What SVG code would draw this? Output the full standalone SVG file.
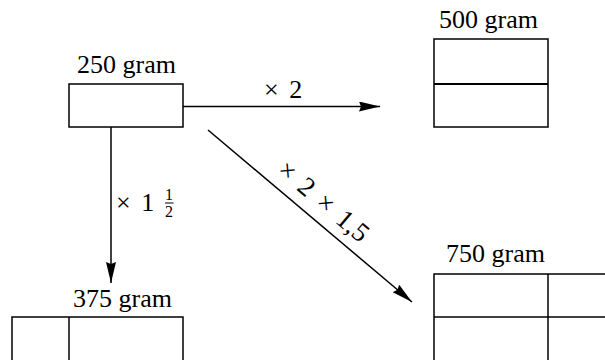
<svg xmlns="http://www.w3.org/2000/svg" width="605" height="360" viewBox="0 0 605 360">
<defs>
<style>
.box{fill:none;stroke:#000;stroke-width:1.5}
.div{stroke:#000;stroke-width:1.5;fill:none}
text{font-family:'Liberation Serif','Times New Roman','DejaVu Serif',serif;fill:#000}
.lbl{font-size:26px}
.op{font-size:26px;word-spacing:4px}
.fr{font-size:16px}
.conn{stroke:#000;stroke-width:1.5;fill:none}
</style>
<marker id="ah" markerUnits="userSpaceOnUse" markerWidth="22" markerHeight="12" refX="21" refY="5" orient="auto">
<path d="M0,0 L21,5 L0,10 L2,5 z" fill="#000"/>
</marker>
</defs>
<rect width="605" height="360" fill="#fff"/>
<g id="node250">
<text class="lbl" x="77" y="73">250 gram</text>
<rect class="box" x="69" y="84" width="114" height="43"/>
</g>
<g id="node500">
<text class="lbl" x="439" y="28">500 gram</text>
<rect class="box" x="434" y="39" width="114" height="88"/>
<line class="div" x1="434" y1="84" x2="548" y2="84" style="stroke-width:2"/>
</g>
<g id="node375">
<text class="lbl" x="73" y="307">375 gram</text>
<rect class="box" x="12" y="317" width="171" height="60"/>
<line class="div" x1="69" y1="317" x2="69" y2="370"/>
</g>
<g id="node750">
<text class="lbl" x="446" y="262">750 gram</text>
<rect class="box" x="434" y="274" width="200" height="100"/>
<line class="div" x1="548" y1="274" x2="548" y2="370"/>
<line class="div" x1="434" y1="317" x2="610" y2="317"/>
</g>
<g id="connectors">
<line class="conn" x1="183" y1="106.5" x2="380" y2="106.5" marker-end="url(#ah)"/>
<line class="conn" x1="111" y1="127" x2="111" y2="283" marker-end="url(#ah)"/>
<line class="conn" x1="208" y1="130" x2="412" y2="302" marker-end="url(#ah)"/>
<text class="op" x="264" y="98">× 2</text>
<text class="op" x="116" y="211">× 1</text>
<text class="fr" x="169" y="200" text-anchor="middle">1</text>
<line x1="165" y1="203" x2="173.5" y2="203" stroke="#000" stroke-width="1"/>
<text class="fr" x="169" y="217" text-anchor="middle">2</text>
<text class="op" text-anchor="middle" style="font-size:27px;word-spacing:4px" transform="translate(318,208) rotate(40.14)">× 2 × 1,5</text>
</g>
</svg>
